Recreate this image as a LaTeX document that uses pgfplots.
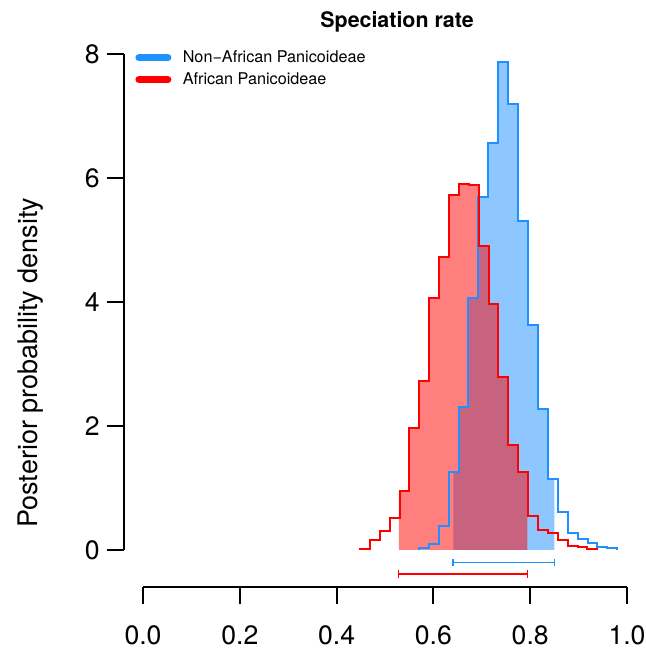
\documentclass[border=0pt]{standalone}
\usepackage{fontspec}
\setmainfont{TeX Gyre Heros}
\usepackage{pgfplots}
\pgfplotsset{compat=1.18}
\definecolor{nblue}{RGB}{30,144,255}
\definecolor{ared}{RGB}{255,0,0}

\begin{document}
\begin{tikzpicture}
\begin{axis}[
  scale only axis,
  width=260.15pt, height=276.52pt,
  xmin=-0.04, xmax=1.035, ymin=-0.6, ymax=8.32,
  clip=false,
  axis x line*=bottom, axis y line*=left,
  axis line style={draw=none},
  tick align=outside,
  major tick length=8.5pt,
  tick style={black, line width=1pt},
  xtick={0,0.2,0.4,0.6,0.8,1},
  ytick={0,2,4,6,8},
  /pgf/number format/assume math mode=true,
  tick label style={font=\fontsize{13.3}{16}\selectfont},
  xticklabel style={yshift=-7pt, /pgf/number format/.cd, fixed, fixed zerofill, precision=1},
  ylabel={Posterior probability density},
  every axis y label/.style={at={(axis description cs:-0.178,0.406)}, rotate=90, anchor=center, font=\fontsize{13.5}{16}\selectfont},
  legend style={draw=none, fill=none, at={(axis description cs:0.0218,0.9714)}, anchor=north west,
    inner sep=0pt, row sep=3.5pt, font=\fontsize{8.1}{9.7}\selectfont, nodes={inner sep=0pt}},
  legend cell align=left,
  legend image code/.code={\draw[line width=3.5pt, line cap=round] (1.75pt,0pt) -- (16.25pt,0pt); \path (23.5pt,0pt);},
]
% corners of the whole figure
\coordinate (bbSW) at (axis cs:-0.2955,-1.581);
\coordinate (bbNE) at (axis cs:1.0372,8.871);

% shaded HPD regions
\addplot[forget plot, const plot, draw=none, fill=nblue, fill opacity=0.5] coordinates {
  (0.641,0) (0.641,1.25) (0.6520,2.30) (0.6725,4.07) (0.6930,5.70) (0.7135,6.57)
  (0.7340,7.87) (0.7545,7.19) (0.7750,5.31) (0.7955,3.63) (0.8160,2.27)
  (0.8365,1.14) (0.850,1.14) (0.850,0)
};
\addplot[forget plot, const plot, draw=none, fill=ared, fill opacity=0.5] coordinates {
  (0.5285,0) (0.5285,0.95) (0.5505,1.97) (0.5709,2.73) (0.5913,4.07) (0.6118,4.73)
  (0.6322,5.72) (0.6526,5.90) (0.6730,5.89) (0.6935,4.91) (0.7139,3.96)
  (0.7343,2.79) (0.7548,1.69) (0.7752,1.25) (0.794,1.25) (0.794,0)
};

% histogram outlines
\addplot[forget plot, const plot, nblue, line width=1pt] coordinates {
  (0.5700,0) (0.5700,0.027) (0.5905,0.097) (0.6110,0.387) (0.6315,1.25) (0.6520,2.30)
  (0.6725,4.07) (0.6930,5.70) (0.7135,6.57) (0.7340,7.87) (0.7545,7.19)
  (0.7750,5.31) (0.7955,3.63) (0.8160,2.27) (0.8365,1.14) (0.8570,0.62)
  (0.8775,0.28) (0.8980,0.18) (0.9185,0.11) (0.9390,0.054) (0.9595,0.027)
  (0.9800,0.027) (0.9800,0)
};
\addplot[forget plot, const plot, ared, line width=1pt] coordinates {
  (0.4483,0) (0.4483,0.016) (0.4687,0.16) (0.4892,0.30) (0.5096,0.52) (0.5300,0.95)
  (0.5505,1.97) (0.5709,2.73) (0.5913,4.07) (0.6118,4.73) (0.6322,5.72)
  (0.6526,5.90) (0.6730,5.89) (0.6935,4.91) (0.7139,3.96) (0.7343,2.79)
  (0.7548,1.69) (0.7752,1.25) (0.7956,0.55) (0.8161,0.32) (0.8365,0.28)
  (0.8569,0.16) (0.8773,0.065) (0.8978,0.043) (0.9182,0.016) (0.9386,0.016)
  (0.9386,0)
};

% HPD intervals
\addplot[forget plot, nblue, line width=0.8pt, mark=|, mark size=1.9pt, mark options={solid, line width=0.8pt}]
  coordinates {(0.641,-0.20) (0.850,-0.20)};
\addplot[forget plot, ared, line width=0.8pt, mark=|, mark size=2pt, mark options={solid, line width=0.8pt}]
  coordinates {(0.528,-0.39) (0.794,-0.39)};

% axis lines
\draw[line width=1pt] (axis cs:-0.04,0) -- (axis cs:-0.04,8);
\draw[line width=1pt] (axis cs:0,-0.6) -- (axis cs:1,-0.6);

\node[font=\fontsize{10.7}{12}\selectfont\bfseries, anchor=base] at (axis cs:0.525,8.424) {Speciation rate};

\addlegendimage{nblue}
\addlegendentry{Non−African Panicoideae}
\addlegendimage{ared}
\addlegendentry{African Panicoideae}
\end{axis}
\pgfresetboundingbox
\path[use as bounding box] (bbSW) rectangle (bbNE);
\end{tikzpicture}
\end{document}
